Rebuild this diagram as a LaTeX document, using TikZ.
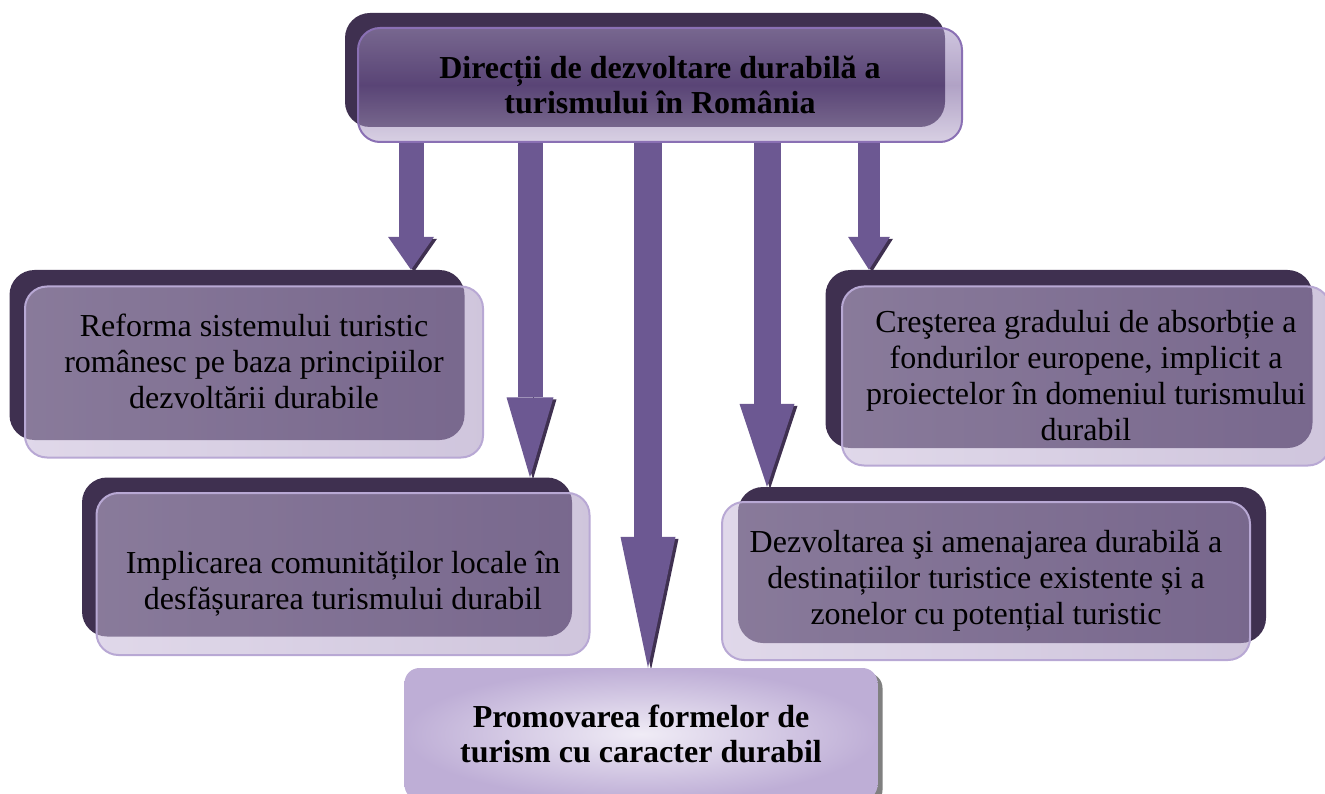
\documentclass[tikz,border=0pt]{standalone}
\usepackage{fontspec}
\setmainfont{Liberation Serif}
\usetikzlibrary{arrows.meta,positioning,backgrounds}

\definecolor{backcol}{RGB}{63,48,80}
\definecolor{rimcol}{RGB}{184,168,212}
\definecolor{toprim}{RGB}{138,112,180}
\definecolor{lavlight}{RGB}{198,184,216}
\definecolor{lavdark}{RGB}{168,150,192}
\definecolor{toptop}{RGB}{167,149,196}
\definecolor{topmid}{RGB}{112,86,150}
\definecolor{topbot}{RGB}{184,169,205}
\definecolor{arrowcol}{RGB}{108,88,146}
\definecolor{promolight}{RGB}{240,236,246}
\definecolor{promodark}{RGB}{190,174,214}

\tikzset{
	boxfont/.style={font=\rmfamily\fontsize{32pt}{36pt}\selectfont},
	boxtext/.style={boxfont, align=center, inner sep=0pt, text opacity=1},
	backbox/.style={fill=backcol, rounded corners=25pt, inner sep=0pt},
	frontbox/.style={draw=rimcol, line width=2pt, rounded corners=22pt, left color=lavlight, right color=lavdark, fill opacity=0.55, draw opacity=1, text opacity=1, align=center, inner sep=0pt, boxfont},
	topbox/.style={frontbox, draw=toprim, top color=toptop, bottom color=topbot, middle color=topmid, font=\rmfamily\fontsize{32pt}{35pt}\selectfont\bfseries},
	promobox/.style={rounded corners=15pt, inner color=promolight, outer color=promodark, align=center, inner sep=0pt, font=\rmfamily\fontsize{32pt}{35pt}\selectfont\bfseries, preaction={fill=gray, transform canvas={shift={(5pt,-5pt)}}}},
	bigarrow/.style n args={3}{draw=arrowcol, line width=#1, -{Triangle[width=#2, length=#3, line width=0pt]}, preaction={draw=backcol, transform canvas={shift={(3pt,-2pt)}}}}
}

\begin{document}
\begin{tikzpicture}[x=1pt, y=-1pt]
	\useasboundingbox (0,0) rectangle (1325,794);

	\node[backbox, minimum width=600pt, minimum height=114pt] (dirback) at (645,70) {};
	\node[topbox, minimum width=604pt, minimum height=114pt] (dir) at ([shift={(15,15)}]dirback.center) {Direcții de dezvoltare durabilă a\\turismului în România};

	\node[backbox, minimum width=455pt, minimum height=170pt] (reformaback) at (237,355) {};
	\node[frontbox, minimum width=458pt, minimum height=171pt, label={[boxtext, yshift=11pt]center:Reforma sistemului turistic\\românesc pe baza principiilor\\dezvoltării durabile}] (reforma) at ([shift={(17,17)}]reformaback.center) {};

	\node[backbox, minimum width=490pt, minimum height=159pt] (implback) at (327,557) {};
	\node[frontbox, minimum width=493pt, minimum height=162pt, label={[boxtext, yshift=-10pt]center:Implicarea comunităților locale în\\desfășurarea turismului durabil}] (impl) at ([shift={(16,17)}]implback.center) {};

	\node[backbox, minimum width=487pt, minimum height=178pt] (crestback) at (1069,359) {};
	\node[frontbox, minimum width=488pt, minimum height=179pt] (crest) at ([shift={(17,17)}]crestback.center) {Creşterea gradului de absorbție a\\fondurilor europene, implicit a\\proiectelor în domeniul turismului\\durabil};

	\node[backbox, minimum width=528pt, minimum height=156pt] (dezvback) at (1002,565) {};
	\node[frontbox, minimum width=528pt, minimum height=158pt] (dezv) at ([shift={(-16,16)}]dezvback.center) {Dezvoltarea şi amenajarea durabilă a\\destinațiilor turistice existente și a\\zonelor cu potențial turistic};

	\node[promobox, minimum width=473pt, minimum height=132pt] (promo) at (641,734) {Promovarea formelor de\\turism cu caracter durabil};

	\coordinate (s1) at ([xshift=-249pt]dir.south);
	\coordinate (s2) at ([xshift=-130pt]dir.south);
	\coordinate (s3) at ([xshift=-12pt]dir.south);
	\coordinate (s4) at ([xshift=107pt]dir.south);
	\coordinate (s5) at ([xshift=209pt]dir.south);

	\begin{scope}[on background layer]
		\draw[bigarrow={25pt}{46pt}{33pt}] (s1) -- (s1 |- reformaback.north);
		\draw[bigarrow={25pt}{47pt}{80pt}] (s2) -- (s2 |- implback.north);
		\draw[bigarrow={28pt}{55pt}{131pt}] (s3) -- (s3 |- promo.north);
		\draw[bigarrow={27pt}{55pt}{83pt}] (s4) -- (s4 |- dezvback.north);
		\draw[bigarrow={22pt}{42pt}{33pt}] (s5) -- (s5 |- crestback.north);
	\end{scope}
\end{tikzpicture}
\end{document}
